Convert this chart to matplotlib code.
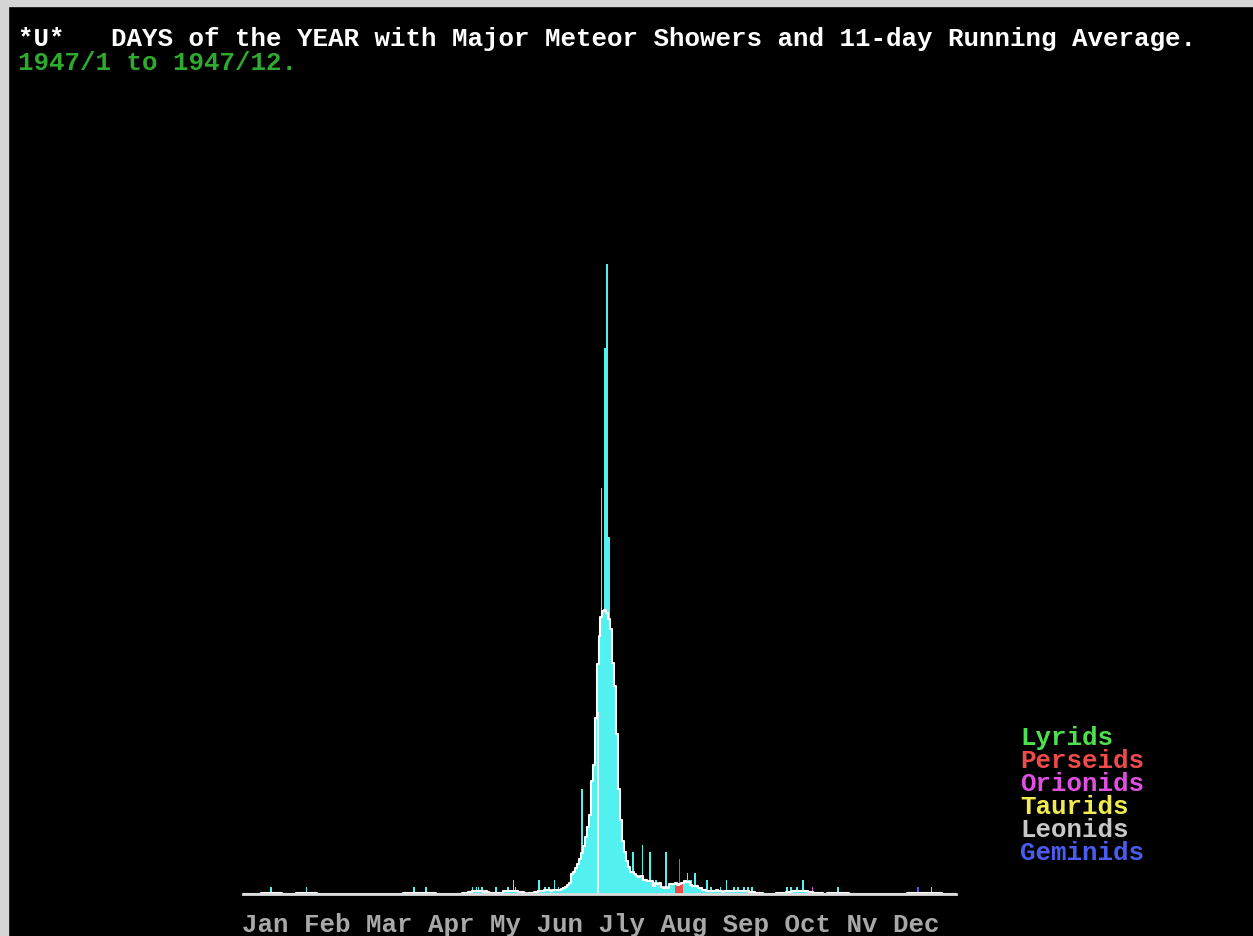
import numpy as np
import matplotlib
matplotlib.use('Agg')
import matplotlib.pyplot as plt
from matplotlib.patches import Rectangle

# Texts
title = "*U*   DAYS of the YEAR with Major Meteor Showers and 11-day Running Average."
subtitle = "1947/1 to 1947/12."
month_labels = ["Jan", "Feb", "Mar", "Apr", "My", "Jun", "Jly", "Aug", "Sep", "Oct", "Nv", "Dec"]

# Daily reports (day of year, count) - days not listed are zero
report_days = [15, 33, 88, 94, 118, 120, 121, 123, 130, 136, 139, 140,
               152, 155, 157, 160, 162, 164, 166, 168, 169,
               170, 171, 172, 173, 174, 175, 176, 177, 178, 179,
               180, 181, 182, 183, 184, 185, 186, 187, 188, 189,
               190, 191, 192, 193, 194, 195, 196, 197, 198, 199,
               200, 201, 202, 203, 205, 206, 207, 209, 210, 212, 214, 217, 219,
               222, 223, 224, 225, 227, 228, 229, 230, 232, 234, 238, 240,
               245, 248, 252, 254, 257, 259, 261, 279, 281, 284, 287,
               292, 305, 346, 353]
report_counts = [1, 1, 1, 1, 1, 1, 1, 1, 1, 1, 2, 1,
                 2, 1, 1, 2, 1, 1, 1, 1, 2,
                 2, 3, 3, 4, 15, 4, 6, 7, 8, 10,
                 14, 16, 18, 22, 58, 40, 78, 90, 51, 38,
                 20, 15, 12, 8, 6, 5, 4, 3, 3, 2,
                 6, 2, 1, 2, 7, 1, 2, 6, 1, 2, 1, 6, 1,
                 1, 1, 5, 1, 2, 3, 2, 2, 3, 1, 2, 1,
                 1, 2, 1, 1, 1, 1, 1, 1, 1, 1, 2,
                 1, 1, 1, 1]

# Meteor showers: name, colour, first and last day of year
shower_names = ["Lyrids", "Perseids", "Orionids", "Taurids", "Leonids", "Geminids"]
shower_colors = ["#4ee04e", "#f04a4a", "#e050e0", "#f0ec50", "#c8c8c8", "#4a5cf0"]
shower_first = [111, 222, 292, 307, 320, 345]
shower_last = [113, 225, 294, 309, 322, 347]

marker_day = 182
marker_height = 26

base_color = "#52f0ee"

days = np.arange(1, 366)
daily = np.zeros(365)
daily[np.array(report_days) - 1] = report_counts
running = np.convolve(daily, np.ones(11) / 11, mode='same')

colors = [base_color] * 365
for c, a, b in zip(shower_colors, shower_first, shower_last):
    for d in range(a, b + 1):
        colors[d - 1] = c

W, H = 1253, 936
fig = plt.figure(figsize=(W / 100, H / 100), dpi=100, facecolor='black')

# screenshot frame at top and left
fig.patches.append(Rectangle((0, 1 - 6 / H), 1, 6 / H, transform=fig.transFigure, color='#d6d6d6'))
fig.patches.append(Rectangle((0, 0), 8 / W, 1, transform=fig.transFigure, color='#d6d6d6'))

ax = fig.add_axes([243 / W, 42 / H, 713 / W, 770 / H])
ax.set_facecolor('black')
ax.bar(days, running, width=1.0, color=colors, linewidth=0)
ax.bar(days, daily, width=0.9, color=colors, linewidth=0)
ax.step(days, running, where='mid', color='white', lw=1.5)
ax.vlines(marker_day, 0, marker_height, color='white', lw=1.2)
ax.axhline(0, color='#dcdcdc', lw=2, clip_on=False)
ax.set_xlim(0.5, 365.5)
ax.set_ylim(0, 110)
ax.axis('off')

font = dict(family='Liberation Mono', weight='bold', fontsize=18.6)

fig.text(18 / W, 1 - 46 / H, title, color='white', va='baseline', **font)
fig.text(18 / W, 1 - 70 / H, subtitle, color='#2eaa2e', va='baseline', **font)

for i, (name, col) in enumerate(zip(shower_names, shower_colors)):
    fig.text(1020 / W, 1 - (745 + 23 * i) / H, name, color=col, va='baseline', **font)

fig.text(242 / W, 1 - 932 / H, " ".join(month_labels), color='#a8a8a8', va='baseline', **font)

fig.savefig('out.png', dpi=100, facecolor='black')
